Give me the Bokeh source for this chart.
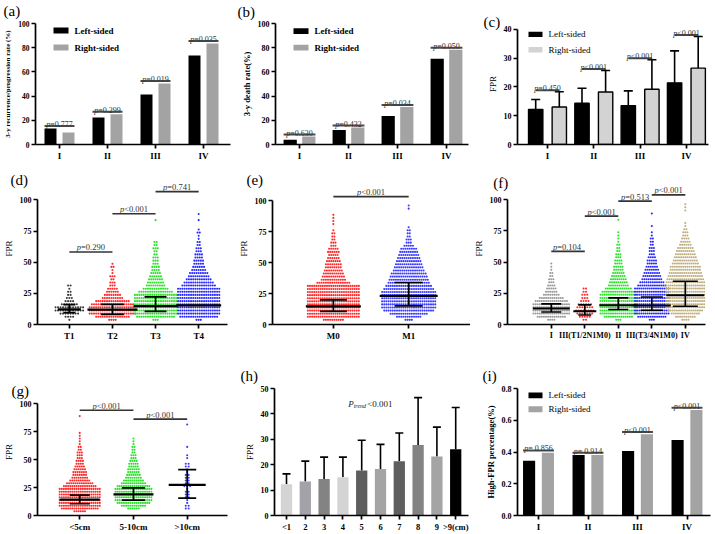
import numpy as np
from bokeh.plotting import figure
from bokeh.layouts import column, row
from bokeh.models import Range1d, FixedTicker, PrintfTickFormatter
from bokeh.core.properties import value
from bokeh.embed import file_html
from bokeh.resources import INLINE

SERIF = "Liberation Serif"

# ------------------------------------------------------------------ data
stages = ["I", "II", "III", "IV"]

a_left = [13.2, 22.3, 41.3, 73.5]
a_right = [9.9, 25.0, 50.4, 83.5]
a_p = ["=0.777", "=0.299", "=0.019", "=0.035"]

b_left = [4.0, 11.9, 23.5, 70.9]
b_right = [6.6, 14.0, 31.0, 78.3]
b_p = ["=0.630", "=0.432", "=0.034", "=0.050"]

c_left_mean = [12.2, 14.3, 13.5, 21.4]
c_left_sd = [3.4, 5.2, 5.1, 11.1]
c_right_mean = [13.0, 18.2, 19.2, 26.5]
c_right_sd = [5.3, 7.5, 10.2, 11.0]
c_p = ["=0.450", "<0.001", "<0.001", "<0.001"]

d_groups = ["T1", "T2", "T3", "T4"]
d_T1 = [0, 1, 4, 8, 12, 12, 7, 4, 3, 2, 2, 1, 2]
d_T2 = [0, 4, 16, 22, 22, 22, 20, 16, 10, 8, 6, 5, 3, 3, 2, 3, 1, 1, 2, 1]
d_T3 = [0, 3, 18, 20, 20, 20, 20, 20, 20, 20, 16, 12, 9, 8, 7, 6, 5, 4, 4, 3,
        3, 3, 2, 2, 3, 2, 2, 0, 0, 0, 0, 0, 0, 1]
d_T4 = [0, 3, 18, 20, 20, 20, 20, 20, 20, 20, 20, 20, 16, 14, 12, 10, 9, 7, 6, 5,
        5, 4, 4, 3, 3, 2, 2, 1, 1, 2, 1, 0, 0, 1, 0, 1]
d_median = [12.2, 11.9, 14.8, 15.3]
d_q1 = [9.5, 8.2, 10.6, None]
d_q3 = [15.9, 16.1, 22.2, None]
d_p = ["=0.290", "<0.001", "=0.741"]
d_bracket_y = [58.2, 88.9, 106.6]

e_groups = ["M0", "M1"]
e_M0 = [0, 10, 25, 25, 25, 25, 25, 25, 25, 25, 25, 25, 25, 16, 12, 11, 10, 9, 8, 8,
        7, 6, 5, 6, 5, 3, 3, 2, 2, 2, 1, 0, 1, 1, 1, 1]
e_M1 = [0, 4, 12, 18, 24, 26, 26, 26, 26, 26, 26, 24, 22, 20, 19, 18, 17, 15, 14, 13,
        12, 11, 10, 9, 8, 5, 3, 3, 2, 2, 2, 1, 0, 0, 0, 0, 0, 1, 1]
e_median = [14.6, 23.1]
e_q1 = [10.6, 15.1]
e_q3 = [19.9, 34.0]
e_p = ["<0.001"]
e_bracket_y = [103.4]

f_groups = ["I", "III(T1/2N1M0)", "II", "III(T3/4N1M0)", "IV"]
f_I = [0, 4, 14, 18, 18, 18, 18, 16, 12, 8, 6, 5, 4, 3, 3, 2, 2, 1, 1, 1]
f_III12 = [0, 2, 5, 7, 8, 7, 6, 4, 3, 3, 2, 2]
f_II = [0, 3, 14, 18, 18, 18, 18, 18, 18, 18, 16, 13, 10, 9, 8, 7, 6, 5, 5, 4,
        4, 3, 3, 2, 2, 2, 1, 1, 1, 1, 0, 0, 0, 1]
f_III34 = [0, 3, 14, 17, 17, 17, 17, 17, 17, 17, 17, 17, 14, 12, 10, 9, 8, 7, 6, 5,
           5, 4, 3, 3, 3, 2, 2, 2, 1, 1, 0, 1, 0, 0, 0, 1]
f_IV = [0, 4, 10, 14, 17, 19, 19, 19, 19, 19, 19, 19, 19, 19, 18, 17, 16, 15, 15, 13,
        12, 11, 10, 9, 8, 6, 5, 4, 3, 3, 2, 1, 1, 0, 0, 0, 1, 1, 1]
f_median = [12.8, 10.6, 15.4, 15.2, 23.4]
f_q1 = [10.0, 7.6, 12.0, 11.4, 14.6]
f_q3 = [16.5, 15.7, 21.3, 22.0, 34.6]
f_p = [" =0.104", "<0.001", "=0.513", "<0.001"]
f_bracket_y = [58.5, 86.7, 98.7, 103.7]

g_groups = ["<5cm", "5-10cm", ">10cm"]
g_small = [0, 6, 18, 20, 20, 20, 20, 20, 20, 20, 16, 13, 10, 8, 7, 7, 6, 5, 4, 4,
           3, 3, 3, 2, 2, 1, 1, 1, 1, 1, 0, 0, 0, 0, 0, 1]
g_mid = [0, 0, 6, 12, 16, 18, 18, 18, 18, 18, 16, 12, 10, 8, 7, 6, 6, 5, 5, 4,
         3, 3, 2, 2, 2, 1, 1, 1]
g_large = [0, 0, 2, 2, 1, 1, 2, 2, 2, 1, 3, 2, 2, 2, 2, 1, 1, 2, 2, 0,
           1, 1, 0, 0, 1, 0, 0, 0, 0, 0, 0, 0, 1]
g_median = [14.2, 18.9, 27.4]
g_q1 = [10.5, 13.7, 15.5]
g_q3 = [18.2, 24.7, 41.0]
g_p = ["<0.001", "<0.001"]
g_bracket_y = [94.0, 86.0]

h_sizes = ["<1", "2", "3", "4", "5", "6", "7", "8", "9", ">9(cm)"]
h_mean = [12.3, 13.4, 14.4, 15.1, 17.7, 18.3, 21.4, 27.8, 23.2, 26.1]
h_sd = [4.1, 8.0, 8.6, 7.9, 11.9, 9.7, 11.1, 18.6, 11.6, 16.4]
h_colors = ["#d4d4d4", "#a2a2a8", "#838383", "#d4d4d4", "#5e5e5e",
            "#a4a4a4", "#5e5e5e", "#838383", "#a4a4a4", "#000000"]

i_left = [0.345, 0.381, 0.406, 0.476]
i_right = [0.396, 0.381, 0.512, 0.665]
i_p = ["= 0.856", "= 0.914", "<0.001", "<0.001"]

# ------------------------------------------------------------------ layout
ROW_TOP = [0, 170, 345]
ROW_H = [170, 175, 189]
COL_LEFT = [0, 235, 470]
COL_W = [235, 235, 245]

CHW = {"0": .5, "1": .5, "2": .5, "3": .5, "4": .5, "5": .5, "6": .5, "7": .5,
       "8": .5, "9": .5, ".": .25, "=": .564, "<": .564, " ": .25, "p": .5}


def text_w(s, size):
    return sum(CHW.get(ch, .5) for ch in s) * size


def make_panel(ri, ci, L, R, T, B, c1, sp, labels, yr, yticks, ybounds, ylabel,
               ylabel_bold=True, ylabel_size="9px", ytick_size="8px",
               xtick_size="9px", yfmt=None):
    n = len(labels)
    cn = c1 + (n - 1) * sp
    xr = (1 - (c1 - L) / sp, n + (R - cn) / sp)
    W, H = COL_W[ci], ROW_H[ri]
    p = figure(width=W, height=H, x_range=Range1d(*xr), y_range=Range1d(*yr),
               output_backend="svg", toolbar_location=None,
               min_border_left=L - COL_LEFT[ci], min_border_right=COL_LEFT[ci] + W - R,
               min_border_top=T - ROW_TOP[ri], min_border_bottom=ROW_TOP[ri] + H - B)
    p.outline_line_color = None
    p.xgrid.visible = False
    p.ygrid.visible = False
    p.background_fill_color = "white"
    p.border_fill_color = "white"
    p.xaxis.ticker = FixedTicker(ticks=list(range(1, n + 1)), minor_ticks=[])
    p.xaxis.major_label_overrides = {i + 1: t for i, t in enumerate(labels)}
    p.yaxis.ticker = FixedTicker(ticks=yticks, minor_ticks=[])
    if ybounds is not None:
        p.yaxis.bounds = ybounds
    if yfmt:
        p.yaxis.formatter = PrintfTickFormatter(format=yfmt)
    for ax in (p.xaxis[0], p.yaxis[0]):
        ax.axis_line_width = 1.7
        ax.axis_line_color = "black"
        ax.major_tick_line_width = 1.7
        ax.major_tick_out = 4
        ax.major_tick_in = 0
        ax.minor_tick_out = 0
        ax.minor_tick_in = 0
        ax.major_label_text_font = SERIF
        ax.major_label_text_font_style = "bold"
        ax.major_label_text_color = "black"
        ax.major_label_standoff = 2
    p.xaxis.major_label_text_font_size = xtick_size
    p.yaxis.major_label_text_font_size = ytick_size
    p.yaxis.axis_label = ylabel
    p.yaxis.axis_label_text_font = SERIF
    p.yaxis.axis_label_text_font_size = ylabel_size
    p.yaxis.axis_label_text_font_style = "bold" if ylabel_bold else "normal"
    p.yaxis.axis_label_text_color = "black"
    p.yaxis.axis_label_standoff = 3
    g = dict(L=L, R=R, T=T, B=B, xr=xr, yr=yr)
    return p, g


def ux(g):
    return (g["xr"][1] - g["xr"][0]) / (g["R"] - g["L"])


def uy(g):
    return (g["yr"][1] - g["yr"][0]) / (g["B"] - g["T"])


def dx_(g, px):
    return g["xr"][0] + (px - g["L"]) * ux(g)


def dy_(g, py):
    return g["yr"][1] - (py - g["T"]) * uy(g)


def panel_label(p, g, text, px, py):
    # drawn at the "overlay" level so that it may sit left of / above the frame
    p.text(x=[dx_(g, px)], y=[dy_(g, py)], text=[text], text_font=value(SERIF),
           text_font_size="15px", text_color="black", text_align="left",
           text_baseline="top", level="overlay")


def ptext(p, x, y, rest, size=8.0, color="#333333"):
    wp = 0.5 * size
    split = -(wp + text_w(rest, size)) / 2 + wp
    common = dict(text_font=value(SERIF), text_font_size=f"{size}px",
                  text_baseline="alphabetic", y_offset=-1.5, text_color=color)
    p.text(x=[x], y=[y], text=["p"], text_font_style="italic", text_align="right",
           x_offset=split, **common)
    p.text(x=[x], y=[y], text=[rest], text_font_style="normal", text_align="left",
           x_offset=split, **common)


def pair_legend(p, g, sw_left, sw_w, y1, y2, right_color, bold):
    labels = ["Left-sided", "Right-sided"]
    cols = ["black", right_color]
    for lab, yc, col in zip(labels, (y1, y2), cols):
        p.quad(left=[dx_(g, sw_left)], right=[dx_(g, sw_left + sw_w)],
               top=[dy_(g, yc - 3)], bottom=[dy_(g, yc + 3)], fill_color=col,
               line_color=None)
        p.text(x=[dx_(g, sw_left + sw_w + 6)], y=[dy_(g, yc)], text=[lab],
               text_font=value(SERIF), text_font_size="9px",
               text_font_style="bold" if bold else "normal", text_color="black",
               text_align="left", text_baseline="middle")


def pair_bars(p, left, right, off, w, rc, outline=None):
    x = np.arange(1, len(left) + 1)
    kw = dict(line_color=outline, line_width=1.4) if outline else dict(line_color=None)
    p.vbar(x=x - off, top=left, width=w, bottom=0, fill_color="black", **kw)
    p.vbar(x=x + off, top=right, width=w, bottom=0, fill_color=rc, **kw)


def bar_pvalues(p, tops_l, tops_r, ptxt, off, w, gap, edges=True, size=8.0):
    for i, (tl, tr, t) in enumerate(zip(tops_l, tops_r, ptxt)):
        c = i + 1
        y = max(tl, tr) + gap
        x0, x1 = (c - off - w / 2, c + off + w / 2) if edges else (c - off, c + off)
        p.segment(x0=[x0], y0=[y], x1=[x1], y1=[y], line_color="#4a4a4a", line_width=2)
        ptext(p, c, y, t, size=size)


def swarm(p, g, center, counts, color, dx_px=2.2, size=2.1, bin_w=2.5):
    dx = dx_px * ux(g)
    xs, ys = [], []
    for k, n in enumerate(counts):
        yc = (k + 0.5) * bin_w
        for i in range(n):
            xs.append(center + (i - (n - 1) / 2) * dx)
            ys.append(yc)
    p.scatter(xs, ys, size=size, fill_color=color, line_color=None, marker="circle")


def med_iqr(p, xc, med, q1, q3, med_px, cap_px):
    if q1 is not None:
        p.segment(x0=[xc], y0=[q1], x1=[xc], y1=[q3], line_color="black", line_width=1.7)
        p.scatter([xc, xc], [q1, q3], marker="dash", size=cap_px, line_color="black",
                  line_width=1.7)
    p.scatter([xc], [med], marker="dash", size=med_px, line_color="black", line_width=2.2)


def brackets(p, ys, texts, size=8.5):
    for i, (y, t) in enumerate(zip(ys, texts)):
        p.segment(x0=[i + 1], y0=[y], x1=[i + 2], y1=[y], line_color="#333333", line_width=1.7)
        ptext(p, i + 1.5, y + 2.5, t, size=size)


# ------------------------------------------------------------------ (a)
pa, ga = make_panel(0, 0, 35, 230, 23, 144, 59, 48, stages, (0, 100),
                    [0, 20, 40, 60, 80, 100], None,
                    "3-y recurrence/progression rate (%)", ylabel_size="7px",
                    ytick_size="7.5px")
pair_bars(pa, a_left, a_right, 0.1875, 0.25, "#a3a3a3")
bar_pvalues(pa, a_left, a_right, a_p, 0.1875, 0.25, 2.0)
pair_legend(pa, ga, 53, 15, 30, 47, "#a3a3a3", True)
panel_label(pa, ga, "(a)", 3, 2)

# ------------------------------------------------------------------ (b)
pb, gb = make_panel(0, 1, 275, 468, 22, 148, 299, 49, stages, (0, 100),
                    [0, 20, 40, 60, 80, 100], None, "3-y death rate(%)",
                    ylabel_size="8.5px")
pair_bars(pb, b_left, b_right, 0.19, 0.27, "#a3a3a3")
bar_pvalues(pb, b_left, b_right, b_p, 0.19, 0.27, 1.6)
pair_legend(pb, gb, 293, 15, 30, 47, "#a3a3a3", True)
panel_label(pb, gb, "(b)", 237, 2)

# ------------------------------------------------------------------ (c)
pc, gc = make_panel(0, 2, 517, 708, 13, 147, 547, 46.3, stages, (0, 42),
                    [0, 10, 20, 30, 40], (0, 40), "FPR", ylabel_bold=False)
xc = np.arange(1, 5)
c_off, c_w = 0.255, 0.31
for xs_, m_, s_ in ((xc - c_off, c_left_mean, c_left_sd), (xc + c_off, c_right_mean, c_right_sd)):
    tops = [m + s for m, s in zip(m_, s_)]
    pc.segment(x0=xs_, y0=m_, x1=xs_, y1=tops, line_color="black", line_width=1.6)
    pc.scatter(xs_, tops, marker="dash", size=9, line_color="black", line_width=1.6)
pair_bars(pc, c_left_mean, c_right_mean, c_off, c_w, "#d3d3d3", outline="black")
c_err_l = [m + s for m, s in zip(c_left_mean, c_left_sd)]
c_err_r = [m + s for m, s in zip(c_right_mean, c_right_sd)]
bar_pvalues(pc, c_err_l, c_err_r, c_p, c_off, c_w, 0.5, edges=False)
pair_legend(pc, gc, 528, 14, 25, 42, "#d3d3d3", False)
panel_label(pc, gc, "(c)", 483, 2)

# ------------------------------------------------------------------ (d)
pd_, gd = make_panel(1, 0, 30, 227, 172, 326, 63, 44.7, d_groups, (0, 122),
                     [0, 25, 50, 75, 100], (0, 100), "FPR", ylabel_bold=False)
d_cols = ["#3a3a3a", "#ff2a2a", "#2be22b", "#2a2aff"]
for k, (cnt, col) in enumerate(zip([d_T1, d_T2, d_T3, d_T4], d_cols)):
    swarm(pd_, gd, k + 1, cnt, col, dx_px=2.6 if k == 0 else 2.25)
d_medw = [23, 50, 44, 45]
d_capw = [12, 23, 22, 22]
for k in range(4):
    med_iqr(pd_, k + 1, d_median[k], d_q1[k], d_q3[k], d_medw[k], d_capw[k])
brackets(pd_, d_bracket_y, d_p)
panel_label(pd_, gd, "(d)", 2, 171)

# ------------------------------------------------------------------ (e)
pe, ge = make_panel(1, 1, 265, 470, 172, 327, 328, 78, e_groups, (0, 123),
                    [0, 25, 50, 75, 100], (0, 100), "FPR", ylabel_bold=False)
for k, (cnt, col) in enumerate(zip([e_M0, e_M1], ["#ff2a2a", "#3c3cff"])):
    swarm(pe, ge, k + 1, cnt, col, dx_px=2.2)
for k, (mw, cw) in enumerate(((55, 27), (58, 28))):
    med_iqr(pe, k + 1, e_median[k], e_q1[k], e_q3[k], mw, cw)
brackets(pe, e_bracket_y, e_p)
panel_label(pe, ge, "(e)", 238, 171)

# ------------------------------------------------------------------ (f)
pf, gf = make_panel(1, 2, 497, 705, 172, 324, 543, 35.2, f_groups, (0, 121.6),
                    [0, 25, 50, 75, 100], (0, 100), "FPR", ylabel_bold=False,
                    xtick_size="8px")
f_cols = ["#9a9a9a", "#ff2a2a", "#2be22b", "#2a2aff", "#bfae80"]
for k, (cnt, col) in enumerate(zip([f_I, f_III12, f_II, f_III34, f_IV], f_cols)):
    swarm(pf, gf, k + 1, cnt, col, dx_px=2.6 if k == 1 else 2.2)
f_medw = [37, 23, 38, 38, 38]
f_capw = [20, 13, 20, 22, 25]
for k in range(5):
    med_iqr(pf, k + 1, f_median[k], f_q1[k], f_q3[k], f_medw[k], f_capw[k])
brackets(pf, f_bracket_y, f_p)
panel_label(pf, gf, "(f)", 482, 174)

# ------------------------------------------------------------------ (g)
pg, gg = make_panel(2, 0, 29, 227, 372, 516, 73, 56, g_groups, (0, 113.4),
                    [0, 25, 50, 75, 100], (0, 100), "FPR", ylabel_bold=False)
for k, (cnt, col) in enumerate(zip([g_small, g_mid, g_large], ["#ff2a2a", "#2be22b", "#3c3cff"])):
    swarm(pg, gg, k + 1, cnt, col, dx_px=3.0 if k == 2 else 2.2)
for k, (mw, cw) in enumerate(((40, 20), (40, 23), (37, 18))):
    med_iqr(pg, k + 1, g_median[k], g_q1[k], g_q3[k], mw, cw)
brackets(pg, g_bracket_y, g_p)
panel_label(pg, gg, "(g)", 2, 366)

# ------------------------------------------------------------------ (h)
ph, gh = make_panel(2, 1, 274, 468, 387, 515, 286, 18.8, h_sizes, (0, 50),
                    [0, 10, 20, 30, 40, 50], None, "FPR", ylabel_bold=False,
                    xtick_size="8.5px")
xh = np.arange(1, 11)
h_top = [m + s for m, s in zip(h_mean, h_sd)]
ph.segment(x0=xh, y0=h_mean, x1=xh, y1=h_top, line_color="black", line_width=1.6)
ph.scatter(xh, h_top, marker="dash", size=8, line_color="black", line_width=1.6)
ph.vbar(x=xh, top=h_mean, width=0.6, bottom=0, fill_color=h_colors, line_color=None)
ptx = 4.28
common = dict(text_font=value(SERIF), text_color="#222222", text_baseline="alphabetic",
              text_align="left")
ph.text(x=[ptx], y=[44.0], text=["P"], text_font_style="italic", text_font_size="9px", **common)
ph.text(x=[ptx], y=[44.0], text=["trend"], text_font_style="italic", text_font_size="6px",
        x_offset=5.5, y_offset=2, **common)
ph.text(x=[ptx], y=[44.0], text=["<0.001"], text_font_style="normal", text_font_size="9px",
        x_offset=19, **common)
panel_label(ph, gh, "(h)", 240, 366)

# ------------------------------------------------------------------ (i)
pi, gi = make_panel(2, 2, 517, 710, 388, 517, 538, 49.5, stages, (0, 0.8),
                    [0, 0.2, 0.4, 0.6, 0.8], None, "High-FPR percentage(%)",
                    ylabel_size="8.5px", yfmt="%.1f")
pair_bars(pi, i_left, i_right, 0.19, 0.245, "#a3a3a3")
bar_pvalues(pi, i_left, i_right, i_p, 0.19, 0.245, 0.014)
pair_legend(pi, gi, 528, 14, 395, 409, "#a3a3a3", False)
panel_label(pi, gi, "(i)", 482, 367)

layout = column(row(pa, pb, pc), row(pd_, pe, pf), row(pg, ph, pi))
open("out.html", "w").write(file_html(layout, INLINE))
